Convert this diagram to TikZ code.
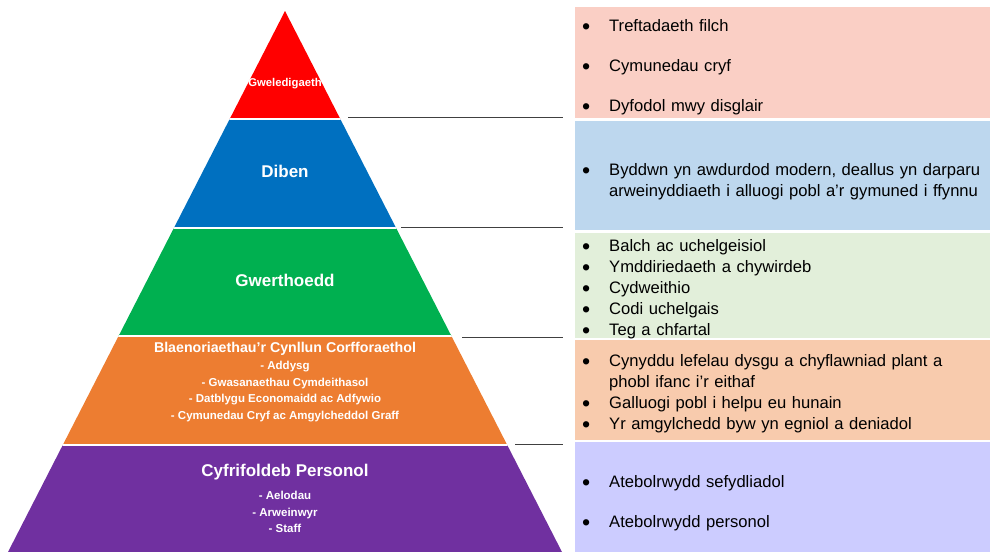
\documentclass[tikz,border=0pt]{standalone}
\usepackage{graphicx}
\usepackage{fontspec}
\setmainfont{Liberation Sans}
\usetikzlibrary{positioning}
\definecolor{visionred}{HTML}{FF0000}
\definecolor{purposeblue}{HTML}{0070C0}
\definecolor{valuesgreen}{HTML}{00B050}
\definecolor{priorange}{HTML}{ED7D31}
\definecolor{accpurple}{HTML}{7030A0}
\definecolor{pinkbg}{HTML}{FACFC5}
\definecolor{bluebg}{HTML}{BDD7EE}
\definecolor{greenbg}{HTML}{E2EFDA}
\definecolor{orangebg}{HTML}{F8CBAD}
\definecolor{purplebg}{HTML}{CCCCFF}
\tikzstyle{layer} = [text=white, align=center, inner sep=0pt]
\tikzstyle{listbox} = [rectangle, anchor=north west, minimum width=415pt, inner sep=0pt]
\tikzstyle{listtext} = [anchor=west, text width=405pt, inner xsep=7pt, inner ysep=0pt, align=left, font=\fontsize{16.6}{21}\selectfont]
\tikzstyle{rule} = [draw=black!75, line width=0.8pt, shorten >=12pt]
\newcommand{\bul}{\makebox[27pt][l]{\raisebox{-2.6pt}{\scalebox{1.4}{\textbullet}}}}
\newcommand{\ind}{\hspace*{27pt}}

\begin{document}
\begin{tikzpicture}[x=1pt, y=-1pt]
    \useasboundingbox (0,0) rectangle (990,552);
    % pyramid
    \begin{scope}
        \clip (285,11) -- (562,552) -- (8,552) -- cycle;
        \fill [visionred] (0,0) rectangle (990,119);
        \fill [purposeblue] (0,119) rectangle (990,228);
        \fill [valuesgreen] (0,228) rectangle (990,336);
        \fill [priorange] (0,336) rectangle (990,445);
        \fill [accpurple] (0,445) rectangle (990,552);
        \draw [white, line width=2pt] (0,119) -- (990,119);
        \draw [white, line width=2pt] (0,228) -- (990,228);
        \draw [white, line width=2pt] (0,336) -- (990,336);
        \draw [white, line width=2pt] (0,445) -- (990,445);
    \end{scope}

    \node (vision) [layer, font=\bfseries\fontsize{11.3}{13}\selectfont] at (285,84) {Gweledigaeth};
    \node (purpose) [layer, font=\bfseries\fontsize{17}{20}\selectfont] at (285,171) {Diben};
    \node (values) [layer, font=\bfseries\fontsize{17}{20}\selectfont] at (285,280) {Gwerthoedd};
    \node (priorities) [layer, font=\bfseries\fontsize{14.2}{17}\selectfont] at (285,349) {Blaenoriaethau'r Cynllun Corfforaethol};
    \node (prioritysub) [layer, font=\bfseries\fontsize{11.5}{16.5}\selectfont] at (285,391.5) {- Addysg\\- Gwasanaethau Cymdeithasol\\- Datblygu Economaidd ac Adfywio\\- Cymunedau Cryf ac Amgylcheddol Graff};
    \node (personal) [layer, font=\bfseries\fontsize{17}{20}\selectfont] at (285,472) {Cyfrifoldeb Personol};
    \node (personalsub) [layer, font=\bfseries\fontsize{11.5}{16.5}\selectfont] at (285,512) {- Aelodau\\- Arweinwyr\\- Staff};

    % boxes
    \node (visionbox) [listbox, fill=pinkbg, minimum height=111pt] at (575,7) {};
    \node (purposebox) [listbox, fill=bluebg, minimum height=109pt] at (575,121) {};
    \node (valuesbox) [listbox, fill=greenbg, minimum height=105pt] at (575,233) {};
    \node (prioritybox) [listbox, fill=orangebg, minimum height=100pt] at (575,340) {};
    \node (personalbox) [listbox, fill=purplebg, minimum height=110pt] at (575,442) {};

    % lists
    \node (visionlist) [listtext] at ([yshift=-5pt]visionbox.west) {\bul Treftadaeth filch\\[19pt]\bul Cymunedau cryf\\[19pt]\bul Dyfodol mwy disglair};
    \node (purposelist) [listtext] at ([yshift=-6pt]purposebox.west) {\bul Byddwn yn awdurdod modern, deallus yn darparu\\\ind arweinyddiaeth i alluogi pobl a'r gymuned i ffynnu};
    \node (valueslist) [listtext] at ([yshift=-4pt]valuesbox.west) {\bul Balch ac uchelgeisiol\\\bul Ymddiriedaeth a chywirdeb\\\bul Cydweithio\\\bul Codi uchelgais\\\bul Teg a chfartal};
    \node (prioritylist) [listtext] at ([yshift=-4pt]prioritybox.west) {\bul Cynyddu lefelau dysgu a chyflawniad plant a\\\ind phobl ifanc i'r eithaf\\\bul Galluogi pobl i helpu eu hunain\\\bul Yr amgylchedd byw yn egniol a deniadol};
    \node (personallist) [listtext] at ([yshift=-6pt]personalbox.west) {\bul Atebolrwydd sefydliadol\\[19pt]\bul Atebolrwydd personol};

    \coordinate (r1) at (348,117);
    \coordinate (r2) at (401,227);
    \coordinate (r3) at (462,337);
    \coordinate (r4) at (515,444);
    \draw [rule] (r1) -- (r1 -| visionbox.west);
    \draw [rule] (r2) -- (r2 -| purposebox.west);
    \draw [rule] (r3) -- (r3 -| valuesbox.west);
    \draw [rule] (r4) -- (r4 -| prioritybox.west);
\end{tikzpicture}
\end{document}
